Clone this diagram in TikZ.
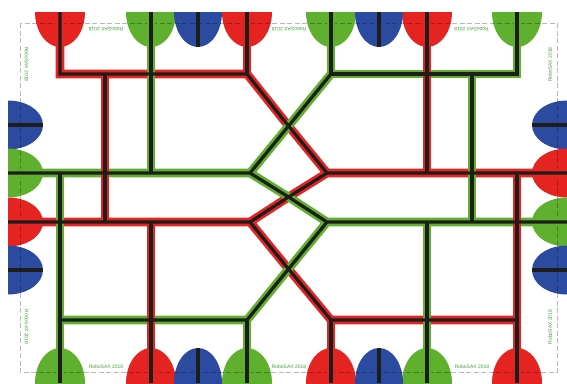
\documentclass[tikz,border=0pt]{standalone}
\usepackage{fontspec}
\setmainfont{Liberation Sans}
\definecolor{tRed}{HTML}{E52421}
\definecolor{tGreen}{HTML}{5FB02E}
\definecolor{tBlue}{HTML}{2A4B9F}
\definecolor{tCore}{HTML}{1D1D1B}
\definecolor{tLabel}{HTML}{3FA535}
\tikzset{
  redtrack/.style={draw=tRed, line width=8.6pt},
  greentrack/.style={draw=tGreen, line width=8.6pt},
  core/.style={draw=tCore, line width=3.2pt},
  frameline/.style={draw=black, opacity=.28, line width=.9pt, dash pattern=on 5pt off 2.5pt},
  tag/.style={font=\fontsize{5}{6}\selectfont, text=tLabel, inner sep=0pt},
}

\begin{document}
\begin{tikzpicture}[x=1pt, y=-1pt]
\useasboundingbox (0,0) rectangle (567,383);

% pads along the four edges
\foreach \i/\px in {1/60,2/151,3/198,4/247,5/331,6/379,7/427,8/517} {
  \coordinate (padT\i) at (\px,12);
  \coordinate (padB\i) at (\px,383);
}
\foreach \i/\py in {1/125,2/173,3/222,4/270} {
  \coordinate (padL\i) at (8,\py);
  \coordinate (padR\i) at (567,\py);
}

% junctions
\foreach \name/\px/\py in {topa/60/74,topb/105/74,topc/151/74,topd/247/74,
    tope/331/74,topf/427/74,topg/472/74,toph/517/74,
    upa/60/173,upb/105/173,upc/151/173,upd/250/173,
    upe/327/173,upf/427/173,upg/472/173,uph/517/173,
    lowa/60/222,lowb/105/222,lowc/151/222,lowd/250/222,
    lowe/327/222,lowf/427/222,lowg/472/222,
    bota/60/320,botc/151/320,botd/247/320,
    bote/331/320,botf/427/320,both/517/320,
    crossu/288.5/126,crossm/288.5/197,crossl/288.5/269}
  \coordinate (\name) at (\px,\py);

\begin{scope}
\clip (8,12) rectangle (567,383);

\foreach \i/\col in {1/tRed,2/tGreen,4/tRed,5/tGreen,7/tRed,8/tGreen}
  \fill[\col] (padT\i) ellipse [x radius=25, y radius=35];
\foreach \i/\col in {1/tGreen,2/tRed,4/tGreen,5/tRed,7/tGreen,8/tRed}
  \fill[\col] (padB\i) ellipse [x radius=25, y radius=35];
\foreach \i/\col in {1/tBlue,2/tGreen,3/tRed,4/tBlue} {
  \fill[\col] (padL\i) ellipse [x radius=35, y radius=24.5];
}
\foreach \i/\col in {1/tBlue,2/tRed,3/tGreen,4/tBlue} {
  \fill[\col] (padR\i) ellipse [x radius=35, y radius=24.5];
}
\foreach \i in {3,6} {
  \fill[tBlue] (padT\i) ellipse [x radius=24, y radius=35];
  \fill[tBlue] (padB\i) ellipse [x radius=24, y radius=35];
}

\draw[frameline] (20,23) rectangle (557,372);

% colour first, black on top of it
\foreach \redline/\greenline in {redtrack/greentrack,core/core} {
  \draw[\redline, line join=miter] (padT1) -- (topa) -- (topd) -- (crossu) -- (upe) -- (padR2);
  \draw[\redline] (both) -- (bote) -- (crossl) -- (lowd) -- (padL3);
  \draw[\redline] (lowd) -- (crossm) -- (upe);
  \draw[\greenline] (padT5) -- (tope) -- (toph) -- (padT8);
  \draw[\greenline] (tope) -- (crossu) -- (upd) -- (padL2);
  \draw[\greenline] (upd) -- (crossm) -- (lowe) -- (padR3);
  \draw[\greenline] (lowe) -- (crossl) -- (botd) -- (bota);
  % verticals
  \draw[\redline] (padT4) -- (topd);
  \draw[\redline] (topb) -- (lowb);
  \draw[\redline] (lowc) -- (padB2);
  \draw[\redline] (padT7) -- (upf);
  \draw[\redline] (uph) -- (padB8);
  \draw[\redline] (bote) -- (padB5);
  \draw[\greenline] (padT2) -- (upc);
  \draw[\greenline] (upa) -- (padB1);
  \draw[\greenline] (botd) -- (padB4);
  \draw[\greenline] (topg) -- (lowg);
  \draw[\greenline] (lowf) -- (padB7);
}

% blue pads only have their own black bar
\foreach \i in {3,6} {
  \draw[core] (padT\i) -- ++(0,35);
  \draw[core] (padB\i) -- ++(0,-35);
}
\foreach \i in {1,4} {
  \draw[core] (padL\i) -- ++(35,0);
  \draw[core] (padR\i) -- ++(-35,0);
}
\end{scope}

\node[tag, rotate=180] (tagta) at (106,29) {RoboSAX 2018};
\node[tag, rotate=180] (tagtb) at (289,29) {RoboSAX 2018};
\node[tag, rotate=180] (tagtc) at (471.5,29) {RoboSAX 2018};
\node[tag] (tagba) at (106,367) {RoboSAX 2018};
\node[tag] (tagbb) at (289,367) {RoboSAX 2018};
\node[tag] (tagbc) at (472,367) {RoboSAX 2018};
\node[tag, rotate=-90] (tagla) at (26.7,64.5) {RoboSAX 2018};
\node[tag, rotate=-90] (taglb) at (26.7,327) {RoboSAX 2018};
\node[tag, rotate=90] (tagra) at (550,64.5) {RoboSAX 2018};
\node[tag, rotate=90] (tagrb) at (550,327) {RoboSAX 2018};

\end{tikzpicture}
\end{document}
